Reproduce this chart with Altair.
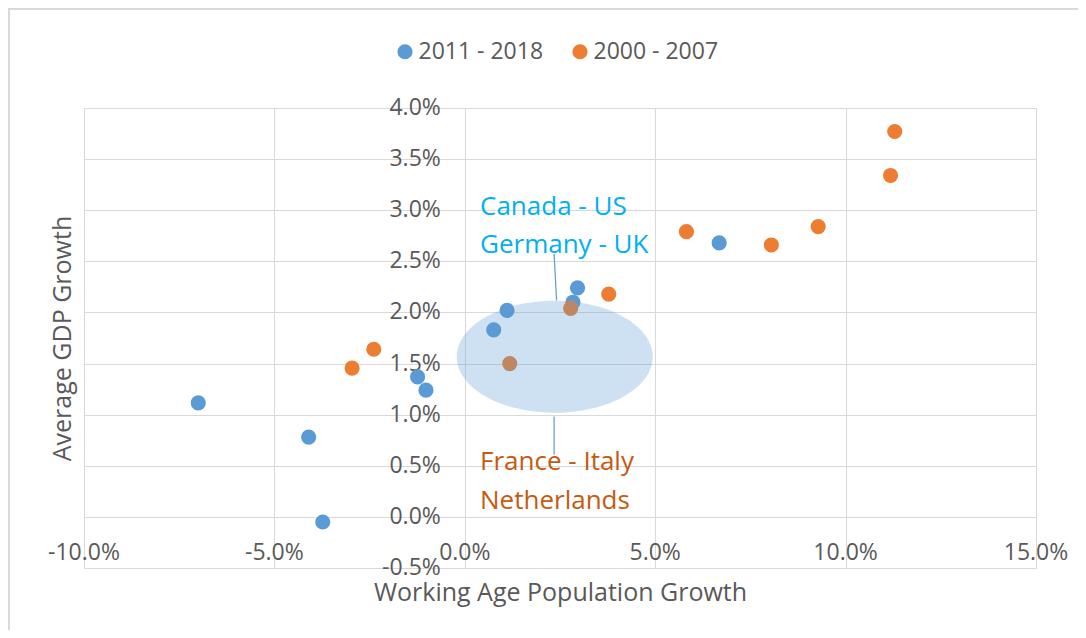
import altair as alt
import pandas as pd

# ---- data ----
series_names = ["2011 - 2018", "2000 - 2007"]
series_colors = ["#5B9BD5", "#ED7D31"]

blue_x = [-7.00, -4.10, -3.73, -1.24, -1.02, 0.76, 1.11, 2.84, 2.96, 6.68]
blue_y = [1.115, 0.78, -0.05, 1.37, 1.24, 1.83, 2.02, 2.10, 2.24, 2.68]
orange_x = [-2.96, -2.39, 1.18, 2.78, 3.78, 5.82, 8.05, 9.28, 11.18, 11.29]
orange_y = [1.455, 1.64, 1.50, 2.04, 2.18, 2.79, 2.66, 2.84, 3.34, 3.77]

x_ticks = [-10, -5, 0, 5, 10, 15]
x_tick_labels = ["-10.0%", "-5.0%", "0.0%", "5.0%", "10.0%", "15.0%"]
y_ticks = [-0.5, 0.0, 0.5, 1.0, 1.5, 2.0, 2.5, 3.0, 3.5, 4.0]
y_tick_labels = ["-0.5%", "0.0%", "0.5%", "1.0%", "1.5%", "2.0%", "2.5%", "3.0%", "3.5%", "4.0%"]

# highlight ellipse (centre) and annotations
ellipse_x = [2.36]
ellipse_y = [1.566]
upper_labels = ["Canada - US", "Germany - UK"]
upper_label_x = [0.40, 0.40]
upper_label_y = [2.955, 2.586]
lower_labels = ["France - Italy", "Netherlands"]
lower_label_x = [0.40, 0.40]
lower_label_y = [0.455, 0.080]
callout_x = [2.345, 2.345]
callout_y = [2.573, 0.981]
callout_x2 = [2.41, 2.345]
callout_y2 = [2.116, 0.607]

FONT = "Open Sans"
GRAY = "#595959"
GRID = "#D9D9D9"

pts = pd.DataFrame({
    "x": blue_x + orange_x,
    "y": blue_y + orange_y,
    "series": [series_names[0]] * len(blue_x) + [series_names[1]] * len(orange_x),
    "ord": [0] * len(blue_x) + [1] * len(orange_x),
})

xs = alt.Scale(domain=[-10, 15], nice=False, zero=False)
ys = alt.Scale(domain=[-0.5, 4.0], nice=False, zero=False)

points = alt.Chart(pts).mark_circle(size=230, opacity=1).encode(
    x=alt.X("x:Q", scale=xs, axis=alt.Axis(
        values=x_ticks, grid=True, gridColor=GRID, gridWidth=1, labels=False,
        ticks=False, domain=False, title="Working Age Population Growth",
        titleFont=FONT, titleFontSize=25, titleFontWeight="normal", titleColor=GRAY,
        titleX=476, titleY=24, titleBaseline="middle", titleAlign="center")),
    y=alt.Y("y:Q", scale=ys, axis=alt.Axis(
        values=y_ticks, grid=True, gridColor=GRID, gridWidth=1, labels=False,
        ticks=False, domain=False, title="Average GDP Growth",
        titleFont=FONT, titleFontSize=25, titleFontWeight="normal", titleColor=GRAY,
        titleX=-22, titleY=230, titleBaseline="middle", titleAlign="center")),
    color=alt.Color("series:N", scale=alt.Scale(domain=series_names, range=series_colors),
                    legend=alt.Legend(title=None, orient="none", legendX=309.5, legendY=-68,
                                      direction="horizontal", symbolType="circle",
                                      symbolSize=230, symbolStrokeWidth=0,
                                      labelFont=FONT, labelFontSize=23, labelColor=GRAY,
                                      labelOffset=2, columnPadding=25, padding=0)),
    order=alt.Order("ord:Q"),
)

k = 0.571
c = 0.5523
ell_path = (f"M-1,0 C-1,{-k*c:.4f} {-c},{-k} 0,{-k} C{c},{-k} 1,{-k*c:.4f} 1,0 "
            f"C1,{k*c:.4f} {c},{k} 0,{k} C{-c},{k} -1,{k*c:.4f} -1,0 Z")

ell = alt.Chart(pd.DataFrame({"x": ellipse_x, "y": ellipse_y})).mark_point(
    shape=ell_path, size=196 * 196, filled=True, color="#5B9BD5", opacity=0.3, strokeWidth=0
).encode(x=alt.X("x:Q", scale=xs), y=alt.Y("y:Q", scale=ys))

callouts = alt.Chart(pd.DataFrame({"x": callout_x, "y": callout_y,
                                   "x2": callout_x2, "y2": callout_y2})).mark_rule(
    color="#5B9BD5", strokeWidth=1.2
).encode(x=alt.X("x:Q", scale=xs), y=alt.Y("y:Q", scale=ys), x2="x2:Q", y2="y2:Q")

upper_txt = alt.Chart(pd.DataFrame({"x": upper_label_x, "y": upper_label_y,
                                    "t": upper_labels})).mark_text(
    align="left", baseline="alphabetic", font=FONT, fontSize=26, color="#00B0F0"
).encode(x=alt.X("x:Q", scale=xs), y=alt.Y("y:Q", scale=ys), text="t:N")

lower_txt = alt.Chart(pd.DataFrame({"x": lower_label_x, "y": lower_label_y,
                                    "t": lower_labels})).mark_text(
    align="left", baseline="alphabetic", font=FONT, fontSize=26, color="#C55A11"
).encode(x=alt.X("x:Q", scale=xs), y=alt.Y("y:Q", scale=ys), text="t:N")

xlab = alt.Chart(pd.DataFrame({"x": x_ticks, "t": x_tick_labels})).mark_text(
    align="center", baseline="middle", dy=36, font=FONT, fontSize=23, color=GRAY
).encode(x=alt.X("x:Q", scale=xs), y=alt.datum(0), text="t:N")

ylab = alt.Chart(pd.DataFrame({"y": y_ticks, "t": y_tick_labels})).mark_text(
    align="right", baseline="middle", dx=-24, font=FONT, fontSize=23, color=GRAY
).encode(x=alt.datum(0), y=alt.Y("y:Q", scale=ys), text="t:N")

border_left = alt.Chart(pd.DataFrame({"a": [0]})).mark_rule(color=GRID, strokeWidth=2).encode(
    x=alt.value(-75), y=alt.value(-100), y2=alt.value(522))
border_top = alt.Chart(pd.DataFrame({"a": [0]})).mark_rule(color=GRID, strokeWidth=2).encode(
    x=alt.value(-76), x2=alt.value(994), y=alt.value(-99))

chart = alt.layer(
    ylab, xlab, points, ell, callouts, upper_txt, lower_txt, border_left, border_top
).properties(
    width=952, height=460,
    autosize=alt.AutoSizeParams(type="none"),
    padding={"left": 76, "top": 100, "right": 42, "bottom": 62},
    background="white",
).configure_view(stroke=None)

chart.save("out.html", embed_options={"renderer": "svg", "actions": False})
